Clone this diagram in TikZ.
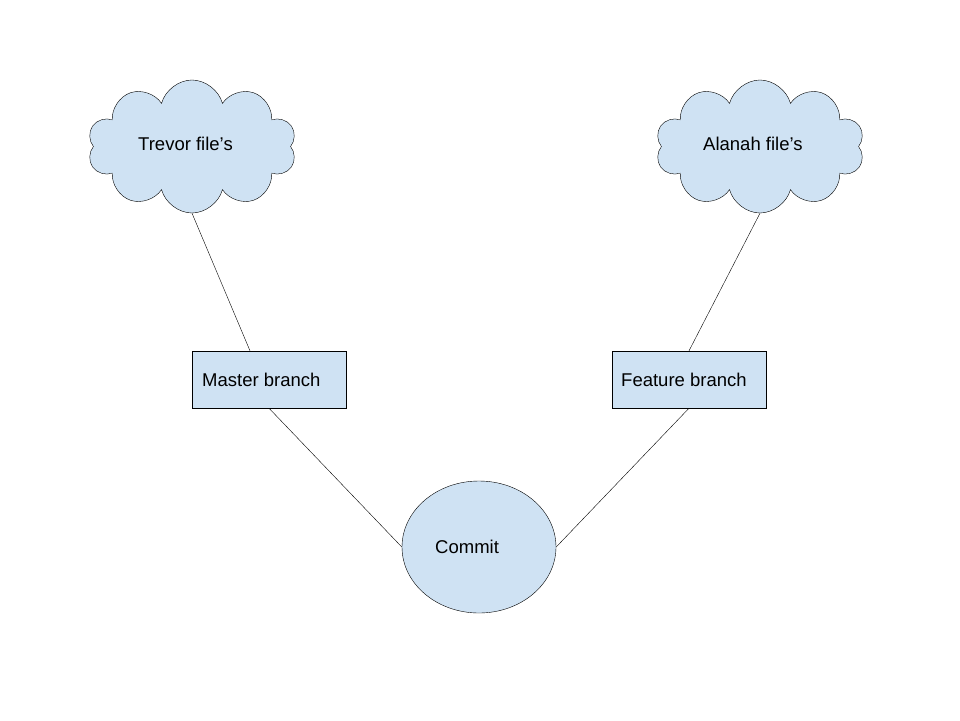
\documentclass[tikz,border=0pt]{standalone}
\usepackage{fontspec}
\setmainfont{Liberation Sans}
\usetikzlibrary{shapes.geometric,shapes.symbols}
\definecolor{lightblue}{HTML}{CFE2F3}
\begin{document}
\begin{tikzpicture}[x=1pt,y=-1pt,
    every node/.style={font=\fontsize{18.5}{22}\selectfont},
    puff/.style={cloud,cloud puffs=10,cloud ignores aspect,draw,fill=lightblue,minimum width=209pt,minimum height=133pt,inner sep=0pt},
    branchbox/.style={rectangle,draw,fill=lightblue,minimum width=154pt,minimum height=57pt,inner sep=0pt},
    commitshape/.style={ellipse,draw,fill=lightblue,minimum width=154pt,minimum height=132pt,inner sep=0pt},
    txt/.style={anchor=west,inner sep=0pt}]
    \useasboundingbox (0,0) rectangle (960,720);
    % clouds
    \node[puff] (trevor) at (192,146.5) {};
    \node[txt] (trevortext) at (138,144) {Trevor file’s};
    \node[puff] (alanah) at (760,146.5) {};
    \node[txt] (alanahtext) at (703,144) {Alanah file’s};
    % branches
    \node[branchbox] (master) at (269,379.5) {};
    \node[txt] (mastertext) at (202,380) {Master branch};
    \node[branchbox] (feature) at (689,379.5) {};
    \node[txt] (featuretext) at (621,380) {Feature branch};
    % commit
    \node[commitshape] (commit) at (479,547) {};
    \node[txt] (committext) at (435,547) {Commit};
    % lines
    \draw (trevor.south) -- ([xshift=-19pt]master.north);
    \draw (master.south) -- (commit.west);
    \draw (commit.east) -- (feature.south);
    \draw (feature.north) -- (alanah.south);
\end{tikzpicture}
\end{document}
